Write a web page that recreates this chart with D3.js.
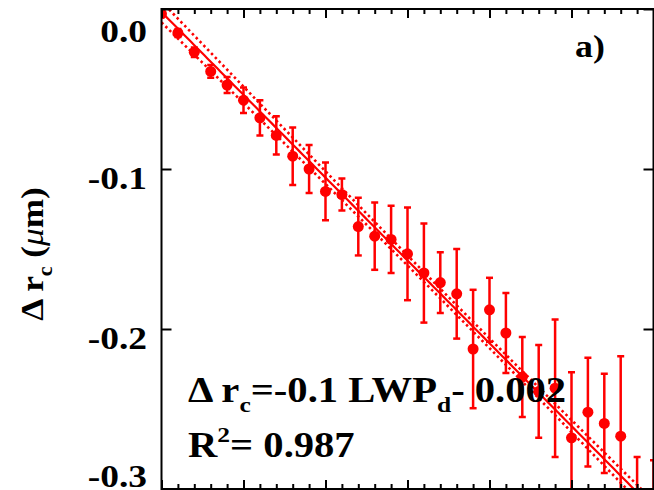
<!doctype html>
<html lang="en">
   <head>
      <meta charset="utf-8">
      <title>Delta rc vs LWPd</title>
      <script src="https://d3js.org/d3.v7.min.js"></script>
      <style>
         body { margin: 0; background: #fff; }
         svg text { font-family: "Liberation Serif", "Times New Roman", serif; font-weight: bold; fill: #000; }
      </style>
   </head>
   <body>
      <svg id="chart" width="654" height="490"></svg>
      <script>
      // values
      var lwp = [0, 0.1, 0.2, 0.3, 0.4, 0.5, 0.6, 0.7, 0.8, 0.9, 1.0, 1.1, 1.2, 1.3, 1.4, 1.5,
                 1.6, 1.7, 1.8, 1.9, 2.0, 2.1, 2.2, 2.3, 2.4, 2.5, 2.6, 2.7, 2.8, 2.9, 3.0];
      var drc = [-0.003, -0.015, -0.027, -0.039, -0.0475, -0.057, -0.068, -0.079, -0.092, -0.100,
                 -0.114, -0.116, -0.136, -0.142, -0.144, -0.153, -0.165, -0.171, -0.178, -0.2125,
                 -0.188, -0.2025, -0.230, -0.239, -0.237, -0.268, -0.252, -0.259, -0.267, -0.307, -0.310];
      var err = [0.002, 0.0025, 0.003, 0.004, 0.005, 0.008, 0.011, 0.012, 0.018, 0.015,
                 0.018, 0.010, 0.018, 0.021, 0.021, 0.029, 0.031, 0.019, 0.028, 0.037,
                 0.020, 0.025, 0.025, 0.029, 0.043, 0.041, 0.034, 0.031, 0.050, 0.027, 0.028];

      var fitSlope = -0.1035, fitIntercept = -0.0019;
      var bandMid = 1.8, bandHalf = 0.003, bandScale = 0.936;

      var yTicks = [0.0, -0.1, -0.2, -0.3];
      var yTickLabels = ["0.0", "-0.1", "-0.2", "-0.3"];
      var xMajor = [0, 0.5, 1.0, 1.5, 2.0, 2.5, 3.0];

      // plot box (window.top is read-only, so no "top" global here)
      var pL = 161.5, pR = 653.5, pT = 9, pB = 489;
      var red = "#ff0000";

      var svg = d3.select("#chart");
      var x = d3.scaleLinear().domain([0, 3]).range([pL, pR]);
      var y = d3.scaleLinear().domain([0, -0.3]).range([pT, pB]);

      svg.append("clipPath").attr("id", "plotclip")
        .append("rect").attr("x", pL).attr("y", pT)
        .attr("width", pR - pL).attr("height", pB - pT);

      var plot = svg.append("g").attr("clip-path", "url(#plotclip)");

      // fit line and its band
      var fitX = d3.range(0, 3.001, 0.02);
      function fit(v) { return fitIntercept + fitSlope * v; }
      function half(v) { return bandHalf * Math.sqrt(1 + Math.pow((v - bandMid) / bandScale, 2)); }

      var line = d3.line().x(d => x(d[0])).y(d => y(d[1]));
      plot.append("path")
        .attr("d", line(fitX.map(v => [v, fit(v)])))
        .attr("fill", "none").attr("stroke", red).attr("stroke-width", 2.2);
      [1, -1].forEach(function(s) {
         plot.append("path")
           .attr("d", line(fitX.map(v => [v, fit(v) + s * half(v)])))
           .attr("fill", "none").attr("stroke", red).attr("stroke-width", 2.6)
           .attr("stroke-dasharray", "2.5,3");
      });

      // error bars and points
      var pts = lwp.map((v, i) => ({x: v, y: drc[i], e: err[i]}));
      var eb = plot.selectAll(".eb").data(pts).enter().append("g").attr("class", "eb")
        .attr("stroke", red).attr("stroke-width", 2.5);
      eb.append("line")
        .attr("x1", d => x(d.x)).attr("x2", d => x(d.x))
        .attr("y1", d => y(d.y + d.e)).attr("y2", d => y(d.y - d.e));
      eb.append("line")
        .attr("x1", d => x(d.x) - 3.5).attr("x2", d => x(d.x) + 3.5)
        .attr("y1", d => y(d.y + d.e)).attr("y2", d => y(d.y + d.e));
      eb.append("line")
        .attr("x1", d => x(d.x) - 3.5).attr("x2", d => x(d.x) + 3.5)
        .attr("y1", d => y(d.y - d.e)).attr("y2", d => y(d.y - d.e));
      plot.selectAll(".pt").data(pts).enter().append("circle").attr("class", "pt")
        .attr("cx", d => x(d.x)).attr("cy", d => y(d.y)).attr("r", 5.5).attr("fill", red);

      // axes: ticks pointing inwards
      var xMinor = d3.range(0, 3.001, 0.1).filter(v => Math.abs(v * 2 - Math.round(v * 2)) > 1e-6);
      function tickAxis(axis, pos) {
         var g = svg.append("g").attr("transform", pos).call(axis);
         g.select(".domain").remove();
         g.selectAll(".tick line").attr("stroke", "#000").attr("stroke-width", 2);
         g.selectAll(".tick text").remove();
      }
      tickAxis(d3.axisTop(x).tickValues(xMajor).tickSize(-9), "translate(0," + pT + ")");
      tickAxis(d3.axisTop(x).tickValues(xMinor).tickSize(-5), "translate(0," + pT + ")");
      tickAxis(d3.axisBottom(x).tickValues(xMajor).tickSize(-9), "translate(0," + pB + ")");
      tickAxis(d3.axisBottom(x).tickValues(xMinor).tickSize(-5), "translate(0," + pB + ")");
      tickAxis(d3.axisLeft(y).tickValues(yTicks).tickSize(-10), "translate(" + pL + ",0)");
      tickAxis(d3.axisRight(y).tickValues(yTicks).tickSize(-10), "translate(" + pR + ",0)");

      svg.append("rect").attr("x", pL).attr("y", pT)
        .attr("width", pR - pL).attr("height", pB - pT)
        .attr("fill", "none").attr("stroke", "#000").attr("stroke-width", 2);

      // y tick labels (kept inside the picture)
      yTicks.forEach(function(v, i) {
         var by = Math.max(42, Math.min(487, y(v) + 20));
         svg.append("text")
           .attr("transform", "translate(147," + by + ") scale(1.17,1)")
           .attr("text-anchor", "end").attr("font-size", 32)
           .text(yTickLabels[i]);
      });

      // y title
      var yt = svg.append("text")
        .attr("transform", "translate(43,254) rotate(-90) scale(1.1,1)")
        .attr("text-anchor", "middle").attr("font-size", 32);
      yt.append("tspan").text("\u0394 r");
      yt.append("tspan").attr("font-size", 20).attr("dy", 9).text("c");
      yt.append("tspan").attr("dy", -9).text(" (");
      yt.append("tspan").attr("font-style", "italic").attr("font-weight", "normal").text("\u03bc");
      yt.append("tspan").text("m)");

      // annotation
      var eq = svg.append("text")
        .attr("transform", "translate(188,402) scale(1.16,1)").attr("font-size", 35);
      eq.append("tspan").text("\u0394 r");
      eq.append("tspan").attr("font-size", 22).attr("dy", 10).text("c");
      eq.append("tspan").attr("dy", -10).text("=-0.1 LWP");
      eq.append("tspan").attr("font-size", 22).attr("dy", 10).text("d");
      eq.append("tspan").attr("dy", -10).text("- 0.002");

      var r2 = svg.append("text")
        .attr("transform", "translate(188,457) scale(1.16,1)").attr("font-size", 35);
      r2.append("tspan").text("R");
      r2.append("tspan").attr("font-size", 22).attr("dy", -15).text("2");
      r2.append("tspan").attr("dy", 15).text("= 0.987");

      svg.append("text")
        .attr("transform", "translate(575,57) scale(1.12,1)").attr("font-size", 32)
        .text("a)");
      </script>
   </body>
</html>
